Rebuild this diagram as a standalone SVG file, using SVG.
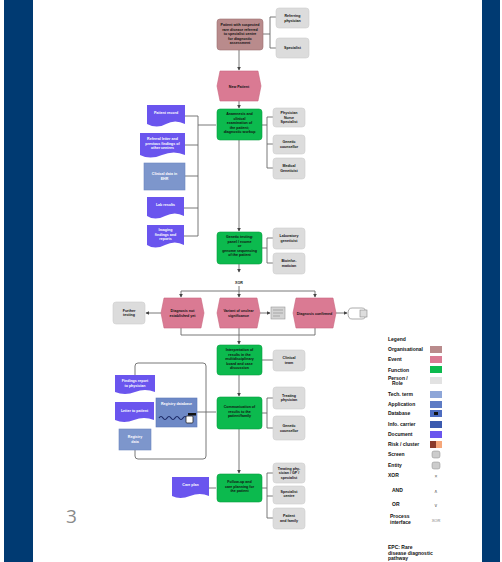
<svg xmlns="http://www.w3.org/2000/svg" width="502" height="562" viewBox="0 0 502 562">
<style>
.t{font-family:"Liberation Sans",Arial,sans-serif;font-size:3.6px;font-weight:bold;fill:#111;text-anchor:middle}
.tw{font-family:"Liberation Sans",Arial,sans-serif;font-size:3.6px;font-weight:bold;fill:#fff;text-anchor:middle}
.lg{font-family:"Liberation Sans",Arial,sans-serif;font-size:5px;font-weight:bold;fill:#111}
.org{fill:#b98b8c;stroke:#9a6f70;stroke-width:0.6}
.ev{fill:#da7a93;stroke:#c9667f;stroke-width:0.6}
.fn{fill:#0cba4e;stroke:#07a040;stroke-width:0.6}
.gr{fill:#dcdcdc;stroke:#cfcfcf;stroke-width:0.6}
.doc{fill:#6a55ee}
.bg{fill:#7d96cc;stroke:#6c86c0;stroke-width:0.6}
.c{fill:none;stroke:#6a6a6a;stroke-width:0.9}
</style>
<defs>
<marker id="a" viewBox="0 0 6 6" refX="5" refY="3" markerWidth="4" markerHeight="4" orient="auto"><path d="M0,0 L6,3 L0,6 z" fill="#444"/></marker>
</defs>
<rect width="502" height="562" fill="#fff"/>
<rect x="4" y="0" width="29" height="562" fill="#003a72"/>
<rect x="482" y="0" width="18" height="562" fill="#003a72"/>

<g id="connectors">
<path class="c" d="M263,34 H270 M270,17 V48 M270,17 H276 M270,48 H276"/>
<path class="c" d="M239,50 V70" marker-end="url(#a)"/>
<path class="c" d="M239,101 V108" marker-end="url(#a)"/>
<path class="c" d="M262,125 H267 M267,117 V168 M267,117 H273 M267,144 H273 M267,168 H273"/>
<path class="c" d="M185,116 H198 M185,145 H198 M185,176 H198 M184,208 H198 M184,236 H198 M198,116 V236 M198,125 H216"/>
<path class="c" d="M239,140 V231" marker-end="url(#a)"/>
<path class="c" d="M262,248 H267 M267,238 V263 M267,238 H273 M267,263 H273"/>
<path class="c" d="M239,264 V272" marker-end="url(#a)"/>
<path class="c" d="M239,286 V291 M181,291 H315"/>
<path class="c" d="M181,291 V297" marker-end="url(#a)"/>
<path class="c" d="M239,291 V297" marker-end="url(#a)"/>
<path class="c" d="M315,291 V297" marker-end="url(#a)"/>
<path class="c" d="M161,313 H146" marker-end="url(#a)"/>
<path class="c" d="M260,313 H270" marker-end="url(#a)"/>
<path class="c" d="M336,313 H347" marker-end="url(#a)"/>
<path class="c" d="M181,328 V335 M239,328 V335 M315,328 V335 M181,335 H315"/>
<path class="c" d="M239,335 V344" marker-end="url(#a)"/>
<path class="c" d="M262,360 H273"/>
<path class="c" d="M239,375 V396" marker-end="url(#a)"/>
<path class="c" d="M262,413 H267 M267,398 V428 M267,398 H273 M267,428 H273"/>
<path class="c" d="M135,375 V366 Q135,363 138,363 H203 Q206,363 206,366 V456 Q206,459 203,459 H138 Q135,459 135,456 V450"/>
<path class="c" d="M197,412 H216"/>
<path class="c" d="M239,429 V473" marker-end="url(#a)"/>
<path class="c" d="M209,488 H216"/>
<path class="c" d="M262,488 H267 M267,473 V518 M267,473 H273 M267,496 H273 M267,518 H273"/>
</g>

<g id="n-org">
<rect class="org" x="217" y="19" width="46" height="31" rx="3"/>
<text class="t" x="240" y="26">Patient with suspected</text>
<text class="t" x="240" y="30.5">rare disease referred</text>
<text class="t" x="240" y="35">to specialist centre</text>
<text class="t" x="240" y="39.5">for diagnostic</text>
<text class="t" x="240" y="44">assessment</text>
</g>
<g id="n-g1"><rect class="gr" x="276" y="8" width="33" height="20" rx="3"/><text class="t" x="292.5" y="17">Referring</text><text class="t" x="292.5" y="21.5">physician</text></g>
<g id="n-g2"><rect class="gr" x="276" y="38" width="33" height="20" rx="3"/><text class="t" x="292.5" y="49">Specialist</text></g>

<g id="n-ev1"><path class="ev" d="M220,71 H258 L261,86 L258,101 H220 L217,86 Z"/><text class="t" x="239" y="87.5">New Patient</text></g>

<g id="n-f1"><rect class="fn" x="217" y="109" width="45" height="31" rx="3"/>
<text class="t" x="239.5" y="115">Anamnesis and</text><text class="t" x="239.5" y="119.5">clinical</text><text class="t" x="239.5" y="124">examination of</text><text class="t" x="239.5" y="128.5">the patient;</text><text class="t" x="239.5" y="133">diagnostic workup</text></g>
<g id="n-g3"><rect class="gr" x="273" y="108" width="32" height="19" rx="3"/><text class="t" x="289" y="114">Physician</text><text class="t" x="289" y="118.5">Nurse</text><text class="t" x="289" y="123">Specialist</text></g>
<g id="n-g4"><rect class="gr" x="273" y="135" width="32" height="19" rx="3"/><text class="t" x="289" y="143">Genetic</text><text class="t" x="289" y="147.5">counsellor</text></g>
<g id="n-g5"><rect class="gr" x="273" y="158" width="32" height="21" rx="3"/><text class="t" x="289" y="167">Medical</text><text class="t" x="289" y="171.5">Geneticist</text></g>

<g id="n-d1"><path class="doc" d="M147,105 H185 V124 Q175,119 166,124 T147,124 Z"/><text class="tw" x="166" y="114">Patient record</text></g>
<g id="n-d2"><path class="doc" d="M140,133 H185 V155 Q174,150 162,155 T140,155 Z"/><text class="tw" x="162.5" y="140">Referral letter and</text><text class="tw" x="162.5" y="144.5">previous findings of</text><text class="tw" x="162.5" y="149">other centres</text></g>
<g id="n-d3"><rect class="bg" x="144" y="163" width="41" height="27"/><text class="tw" x="164.5" y="175">Clinical data in</text><text class="tw" x="164.5" y="179.5">EHR</text></g>
<g id="n-d4"><path class="doc" d="M147,197 H184 V216 Q175,211 165,216 T147,216 Z"/><text class="tw" x="165.5" y="206">Lab results</text></g>
<g id="n-d5"><path class="doc" d="M147,225 H184 V245 Q175,240 165,245 T147,245 Z"/><text class="tw" x="165.5" y="231">Imaging</text><text class="tw" x="165.5" y="235.5">findings and</text><text class="tw" x="165.5" y="240">reports</text></g>

<g id="n-f2"><rect class="fn" x="217" y="232" width="45" height="32" rx="3"/>
<text class="t" x="239.5" y="238">Genetic testing:</text><text class="t" x="239.5" y="242.5">panel / exome</text><text class="t" x="239.5" y="247">or</text><text class="t" x="239.5" y="251.5">genome sequencing</text><text class="t" x="239.5" y="256">of the patient</text></g>
<g id="n-g6"><rect class="gr" x="273" y="228" width="32" height="21" rx="3"/><text class="t" x="289" y="237">Laboratory</text><text class="t" x="289" y="241.5">geneticist</text></g>
<g id="n-g7"><rect class="gr" x="273" y="253" width="32" height="21" rx="3"/><text class="t" x="289" y="262">Bioinfor-</text><text class="t" x="289" y="266.5">matician</text></g>

<g id="n-xor"><text class="t" x="239" y="284">XOR</text></g>

<g id="n-ev2"><path class="ev" d="M164,298 H201 L204,313 L201,328 H164 L161,313 Z"/><text class="t" x="182.5" y="312">Diagnosis not</text><text class="t" x="182.5" y="316.5">established yet</text></g>
<g id="n-ev3"><path class="ev" d="M220,298 H257 L260,313 L257,328 H220 L217,313 Z"/><text class="t" x="238.5" y="312">Variant of unclear</text><text class="t" x="238.5" y="316.5">significance</text></g>
<g id="n-ev4"><path class="ev" d="M296,298 H333 L336,313 L333,328 H296 L293,313 Z"/><text class="t" x="314.5" y="314.5">Diagnosis confirmed</text></g>
<g id="n-g8"><rect class="gr" x="113" y="302" width="32" height="22" rx="3"/><text class="t" x="129" y="311.5">Further</text><text class="t" x="129" y="316">testing</text></g>
<g id="n-ic1"><rect x="271" y="307" width="14" height="12" fill="#d4d4d4" stroke="#999" stroke-width="0.6"/><path d="M273,310 H283 M273,313 H283 M273,316 H280" stroke="#888" stroke-width="0.6"/></g>
<g id="n-ic2"><path d="M352,308 H362 Q366,308 366,313.5 Q366,319 362,319 H352 Q348,319 348,313.5 Q348,308 352,308 Z" fill="#fff" stroke="#888" stroke-width="0.7"/><rect x="360" y="310" width="7" height="7" fill="#ddd" stroke="#888" stroke-width="0.6"/></g>

<g id="n-f3"><rect class="fn" x="217" y="345" width="45" height="30" rx="3"/>
<text class="t" x="239.5" y="351">Interpretation of</text><text class="t" x="239.5" y="355.5">results in the</text><text class="t" x="239.5" y="360">multidisciplinary</text><text class="t" x="239.5" y="364.5">board and case</text><text class="t" x="239.5" y="369">discussion</text></g>
<g id="n-g9"><rect class="gr" x="273" y="350" width="32" height="21" rx="3"/><text class="t" x="289" y="359">Clinical</text><text class="t" x="289" y="363.5">team</text></g>

<g id="n-f4"><rect class="fn" x="217" y="397" width="45" height="32" rx="3"/>
<text class="t" x="239.5" y="408">Communication of</text><text class="t" x="239.5" y="412.5">results to the</text><text class="t" x="239.5" y="417">patient/family</text></g>
<g id="n-g10"><rect class="gr" x="273" y="387" width="32" height="22" rx="3"/><text class="t" x="289" y="396.5">Treating</text><text class="t" x="289" y="401">physician</text></g>
<g id="n-g11"><rect class="gr" x="273" y="416" width="32" height="24" rx="3"/><text class="t" x="289" y="427">Genetic</text><text class="t" x="289" y="431.5">counsellor</text></g>

<g id="n-d6"><path class="doc" d="M115,375 H155 V392 Q145,388 135,392 T115,392 Z"/><text class="tw" x="135" y="382">Findings report</text><text class="tw" x="135" y="386.5">to physician</text></g>
<g id="n-d7"><path class="doc" d="M115,402 H154 V420 Q144,416 134,420 T115,420 Z"/><text class="tw" x="134.5" y="412">Letter to patient</text></g>
<g id="n-db"><rect x="156" y="398" width="41" height="29" fill="#6e89c6" stroke="#5d78b8" stroke-width="0.6"/><text class="tw" x="176.5" y="405">Registry database</text><path d="M159,418 q2,-3 4,0 t4,0 t4,0 t4,0 t4,0 t4,0 t4,0" fill="none" stroke="#1c2a66" stroke-width="1.2"/><rect x="186" y="416" width="7" height="7" rx="1" fill="#fff" stroke="#222" stroke-width="0.8"/><rect x="188" y="413" width="8" height="2.5" fill="#111"/></g>
<g id="n-d8"><rect class="bg" x="119" y="429" width="32" height="21"/><text class="tw" x="135" y="438">Registry</text><text class="tw" x="135" y="442.5">data</text></g>

<g id="n-f5"><rect class="fn" x="217" y="474" width="45" height="28" rx="3"/>
<text class="t" x="239.5" y="483">Follow-up and</text><text class="t" x="239.5" y="487.5">care planning for</text><text class="t" x="239.5" y="492">the patient</text></g>
<g id="n-d9"><path class="doc" d="M172,477 H209 V496 Q200,492 190,496 T172,496 Z"/><text class="tw" x="190.5" y="486">Care plan</text></g>
<g id="n-g12"><rect class="gr" x="273" y="463" width="32" height="20" rx="3"/><text class="t" x="289" y="469.5">Treating phy-</text><text class="t" x="289" y="474">sician / GP /</text><text class="t" x="289" y="478.5">specialist</text></g>
<g id="n-g13"><rect class="gr" x="273" y="486" width="32" height="18" rx="3"/><text class="t" x="289" y="492.5">Specialist</text><text class="t" x="289" y="497">centre</text></g>
<g id="n-g14"><rect class="gr" x="273" y="508" width="32" height="21" rx="3"/><text class="t" x="289" y="517">Patient</text><text class="t" x="289" y="521.5">and family</text></g>

<g id="page-number"><text x="66" y="523" font-family="Open Sans,Liberation Sans,sans-serif" font-size="19" fill="#8a8a8a">3</text></g>

<g id="legend">
<text class="lg" x="388" y="341">Legend</text>
<text class="lg" x="388" y="351">Organisational</text><rect x="430" y="346" width="12" height="7" fill="#b98b8c"/>
<text class="lg" x="388" y="361">Event</text><rect x="430" y="356" width="12" height="7" fill="#da7a93"/>
<text class="lg" x="388" y="372">Function</text><rect x="430" y="366" width="12" height="7" fill="#0cba4e"/>
<text class="lg" x="388" y="380">Person /</text><text class="lg" x="392" y="385">Role</text><rect x="430" y="377" width="12" height="7" fill="#e2e2e2"/>
<text class="lg" x="388" y="396">Tech. term</text><rect x="430" y="391" width="12" height="7" fill="#8ea6d8"/>
<text class="lg" x="388" y="406">Application</text><rect x="430" y="401" width="12" height="7" fill="#5d7bc4"/>
<text class="lg" x="388" y="415">Database</text><rect x="430" y="410" width="12" height="7" fill="#4d6cc0"/><rect x="434" y="412" width="4" height="3" fill="#111"/>
<text class="lg" x="388" y="426">Info. carrier</text><rect x="430" y="421" width="12" height="7" fill="#3b5aaf"/>
<text class="lg" x="388" y="436">Document</text><rect x="430" y="431" width="12" height="7" fill="#6a55ee"/>
<text class="lg" x="388" y="446">Risk / cluster</text><rect x="430" y="441" width="6" height="7" fill="#8b3a2a"/><rect x="436" y="441" width="6" height="7" fill="#f6a77a"/>
<text class="lg" x="388" y="456">Screen</text><rect x="432" y="451" width="8" height="7" rx="2" fill="#ccc" stroke="#888" stroke-width="0.5"/>
<text class="lg" x="388" y="467">Entity</text><rect x="432" y="462" width="8" height="7" rx="2" fill="#ccc" stroke="#888" stroke-width="0.5"/>
<text class="lg" x="388" y="477">XOR</text><text x="436" y="478" font-family="Liberation Sans,sans-serif" font-size="5" fill="#666" text-anchor="middle">×</text>
<text class="lg" x="392" y="492">AND</text><text x="436" y="493" font-family="Liberation Sans,sans-serif" font-size="5" fill="#666" text-anchor="middle">∧</text>
<text class="lg" x="392" y="506">OR</text><text x="436" y="507" font-family="Liberation Sans,sans-serif" font-size="5" fill="#666" text-anchor="middle">∨</text>
<text class="lg" x="390" y="518">Process</text><text class="lg" x="390" y="524">interface</text><text x="436" y="522" font-family="Liberation Sans,sans-serif" font-size="4" fill="#777" text-anchor="middle">XOR</text>
<text class="lg" x="388" y="549">EPC: Rare</text><text class="lg" x="388" y="554.5">disease diagnostic</text><text class="lg" x="388" y="560">pathway</text>
</g>
</svg>
